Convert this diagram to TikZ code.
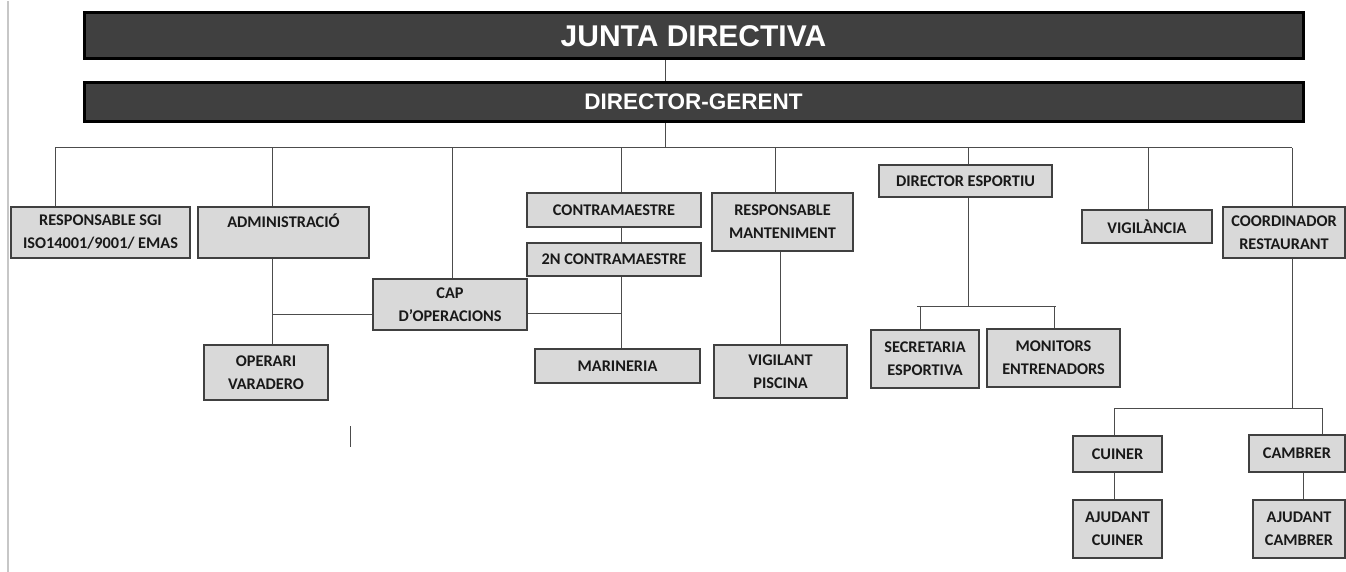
\documentclass[tikz,border=0pt]{standalone}
\usepackage{fontspec}
\setmainfont{Carlito}
\newfontfamily\arialfont{Liberation Sans}
\usepackage{tikz}

\tikzset{
  junta/.style={draw=black, line width=3pt, fill=black!75, text=white,
    inner sep=0pt, font=\arialfont\bfseries},
  carrec/.style={draw=black!75, line width=1.2pt, fill=black!15, align=center,
    inner sep=0pt, font=\fontsize{16.3}{23}\selectfont\bfseries, text=black!90},
  mida/.style 2 args={minimum width=#1pt, minimum height=#2pt},
  linia/.style={draw=black!70, line width=1pt}
}

\begin{document}
\begin{tikzpicture}[x=1pt,y=-1pt]
  \useasboundingbox (0,0) rectangle (1346,572);
  \draw[black!22, line width=1.3pt] (8,1) -- (8,572); % marge de la pagina

  % caixes fosques
  \node[junta, mida={1219}{46}, font=\arialfont\bfseries\fontsize{30}{32}\selectfont] (junta) at (693.5,36) {JUNTA DIRECTIVA};
  \node[junta, mida={1219}{39}, font=\arialfont\bfseries\fontsize{22.5}{24}\selectfont] (gerent) at (693.5,102) {DIRECTOR-GERENT};

  % carrecs
  \node[carrec, mida={179}{51}] (sgi) at (100.5,232.5) {RESPONSABLE SGI\\ISO14001/9001/ EMAS};
  \node[carrec, mida={171}{51}] (admin) at (283.5,232.5) {ADMINISTRACIÓ\\~};
  \node[carrec, mida={154}{51}] (cap) at (450,304.5) {CAP\\D’OPERACIONS};
  \node[carrec, mida={124}{55}] (operari) at (266,372.5) {OPERARI\\VARADERO};
  \node[carrec, mida={174}{34}] (contra) at (614,210) {CONTRAMAESTRE};
  \node[carrec, mida={174}{33}] (contra2) at (614,259.5) {2N CONTRAMAESTRE};
  \node[carrec, mida={165}{34}] (marineria) at (617.5,366) {MARINERIA};
  \node[carrec, mida={141}{58}] (mant) at (782.5,222) {RESPONSABLE\\MANTENIMENT};
  \node[carrec, mida={133}{53}] (piscina) at (780.5,371.5) {VIGILANT\\PISCINA};
  \node[carrec, mida={173}{32}] (desport) at (965.5,181) {DIRECTOR ESPORTIU};
  \node[carrec, mida={108}{58}] (secret) at (925,359) {SECRETARIA\\ESPORTIVA};
  \node[carrec, mida={133}{58}] (monitors) at (1053.5,358) {MONITORS\\ENTRENADORS};
  \node[carrec, mida={130}{33}] (vigil) at (1147,226.5) {VIGILÀNCIA};
  \node[carrec, mida={122}{51}] (coord) at (1284,232.5) {COORDINADOR\\RESTAURANT};
  \node[carrec, mida={89}{36}] (cuiner) at (1117.5,454) {CUINER};
  \node[carrec, mida={89}{58}] (ajcuiner) at (1117.5,529) {AJUDANT\\CUINER};
  \node[carrec, mida={96}{37}] (cambrer) at (1297,453.5) {CAMBRER};
  \node[carrec, mida={92}{58}] (ajcambrer) at (1299,529) {AJUDANT\\CAMBRER};

  % connectors
  \coordinate (eix) at (665,148);
  \draw[linia] (junta.south -| eix) -- (gerent.north -| eix);
  \draw[linia] (gerent.south -| eix) -- (eix);
  \draw[linia] (55,148) -- (1292,148);
  \foreach \n/\x in {sgi/55, admin/272, cap/452, contra/621, mant/775, desport/968, vigil/1148, coord/1292}
    \draw[linia] (\x,148) -- (\n.north -| \x,0);

  \draw[linia] (admin.south -| 272,0) -- (operari.north -| 272,0);
  \draw[linia] (272,314) -- (cap.west |- 0,314);
  \draw[linia] (contra.south -| 621,0) -- (contra2.north -| 621,0);
  \draw[linia] (contra2.south -| 621,0) -- (marineria.north -| 621,0);
  \draw[linia] (cap.east |- 0,313) -- (621,313);
  \draw[linia] (mant.south -| 780,0) -- (piscina.north -| 780,0);

  \draw[linia] (desport.south -| 968,0) -- (968,306);
  \draw[linia] (917,306) -- (1056,306);
  \draw[linia] (920,306) -- (secret.north -| 920,0);
  \draw[linia] (1054,306) -- (monitors.north -| 1054,0);

  \draw[linia] (coord.south -| 1292,0) -- (1292,408);
  \draw[linia] (1114,408) -- (1322,408);
  \draw[linia] (1114,408) -- (cuiner.north -| 1114,0);
  \draw[linia] (1322,408) -- (cambrer.north -| 1322,0);
  \draw[linia] (cuiner.south -| 1114,0) -- (ajcuiner.north -| 1114,0);
  \draw[linia] (cambrer.south -| 1303,0) -- (ajcambrer.north -| 1303,0);

  \draw[linia] (350,426) -- (350,447);
\end{tikzpicture}
\end{document}
